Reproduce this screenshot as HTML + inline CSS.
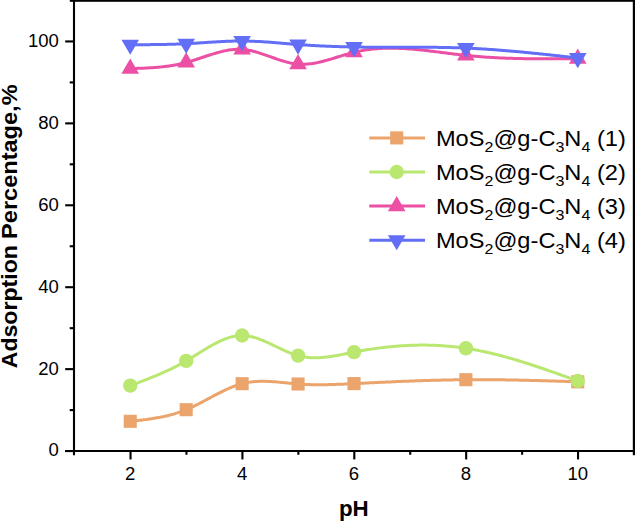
<!DOCTYPE html>
<html><head><meta charset="utf-8"><title>chart</title>
<style>
html,body{margin:0;padding:0;background:#fff;}
body{width:635px;height:522px;overflow:hidden;}
svg{display:block;font-family:"Liberation Sans",sans-serif;}
</style></head><body>
<svg width="635" height="522" viewBox="0 0 635 522">
<rect width="635" height="522" fill="#fff"/>
<polyline points="130.24,421.30 131.74,421.14 133.23,420.99 134.73,420.83 136.23,420.67 137.72,420.50 139.22,420.34 140.72,420.17 142.21,419.99 143.71,419.81 145.21,419.62 146.70,419.43 148.20,419.23 149.70,419.02 151.19,418.81 152.69,418.58 154.19,418.34 155.68,418.10 157.18,417.84 158.68,417.57 160.17,417.29 161.67,416.99 163.17,416.68 164.66,416.36 166.16,416.02 167.66,415.67 169.15,415.29 170.65,414.91 172.15,414.50 173.64,414.07 175.14,413.63 176.64,413.17 178.14,412.68 179.63,412.18 181.13,411.65 182.63,411.10 184.12,410.53 185.62,409.93 187.12,409.31 188.61,408.66 190.11,408.00 191.61,407.31 193.10,406.60 194.60,405.88 196.10,405.14 197.59,404.39 199.09,403.63 200.59,402.85 202.08,402.07 203.58,401.28 205.08,400.48 206.57,399.68 208.07,398.88 209.57,398.08 211.06,397.28 212.56,396.48 214.06,395.68 215.55,394.89 217.05,394.11 218.55,393.34 220.04,392.58 221.54,391.83 223.04,391.10 224.53,390.38 226.03,389.68 227.53,389.00 229.02,388.34 230.52,387.70 232.02,387.09 233.51,386.50 235.01,385.94 236.51,385.41 238.00,384.91 239.50,384.44 241.00,384.00 242.49,383.60 243.99,383.24 245.49,382.91 246.98,382.62 248.48,382.36 249.98,382.13 251.47,381.93 252.97,381.77 254.47,381.62 255.96,381.51 257.46,381.42 258.96,381.35 260.45,381.31 261.95,381.29 263.45,381.29 264.95,381.31 266.44,381.34 267.94,381.40 269.44,381.47 270.93,381.55 272.43,381.64 273.93,381.75 275.42,381.86 276.92,381.99 278.42,382.12 279.91,382.26 281.41,382.41 282.91,382.56 284.40,382.71 285.90,382.86 287.40,383.01 288.89,383.17 290.39,383.32 291.89,383.46 293.38,383.60 294.88,383.74 296.38,383.87 297.87,383.99 299.37,384.10 300.87,384.20 302.36,384.29 303.86,384.37 305.36,384.44 306.85,384.50 308.35,384.56 309.85,384.61 311.34,384.65 312.84,384.68 314.34,384.70 315.83,384.72 317.33,384.73 318.83,384.73 320.32,384.73 321.82,384.72 323.32,384.71 324.81,384.69 326.31,384.66 327.81,384.64 329.30,384.60 330.80,384.56 332.30,384.52 333.79,384.47 335.29,384.42 336.79,384.37 338.28,384.31 339.78,384.25 341.28,384.19 342.77,384.13 344.27,384.06 345.77,383.99 347.26,383.92 348.76,383.85 350.26,383.78 351.75,383.71 353.25,383.64 354.75,383.56 356.25,383.49 357.74,383.42 359.24,383.35 360.74,383.27 362.23,383.20 363.73,383.13 365.23,383.06 366.72,382.99 368.22,382.91 369.72,382.84 371.21,382.77 372.71,382.70 374.21,382.63 375.70,382.56 377.20,382.49 378.70,382.42 380.19,382.35 381.69,382.28 383.19,382.21 384.68,382.15 386.18,382.08 387.68,382.01 389.17,381.94 390.67,381.88 392.17,381.81 393.66,381.75 395.16,381.68 396.66,381.62 398.15,381.56 399.65,381.49 401.15,381.43 402.64,381.37 404.14,381.31 405.64,381.25 407.13,381.19 408.63,381.13 410.13,381.08 411.62,381.02 413.12,380.96 414.62,380.91 416.11,380.85 417.61,380.80 419.11,380.75 420.60,380.70 422.10,380.65 423.60,380.60 425.09,380.55 426.59,380.50 428.09,380.46 429.58,380.41 431.08,380.37 432.58,380.32 434.07,380.28 435.57,380.24 437.07,380.20 438.56,380.16 440.06,380.13 441.56,380.09 443.05,380.06 444.55,380.02 446.05,379.99 447.55,379.96 449.04,379.93 450.54,379.90 452.04,379.88 453.53,379.85 455.03,379.83 456.53,379.81 458.02,379.78 459.52,379.76 461.02,379.75 462.51,379.73 464.01,379.72 465.51,379.70 467.00,379.69 468.50,379.68 470.00,379.67 471.49,379.67 472.99,379.66 474.49,379.66 475.98,379.66 477.48,379.65 478.98,379.65 480.47,379.66 481.97,379.66 483.47,379.66 484.96,379.67 486.46,379.68 487.96,379.69 489.45,379.70 490.95,379.71 492.45,379.72 493.94,379.74 495.44,379.75 496.94,379.77 498.43,379.78 499.93,379.80 501.43,379.82 502.92,379.84 504.42,379.86 505.92,379.89 507.41,379.91 508.91,379.94 510.41,379.96 511.90,379.99 513.40,380.02 514.90,380.05 516.39,380.07 517.89,380.11 519.39,380.14 520.88,380.17 522.38,380.20 523.88,380.24 525.37,380.27 526.87,380.31 528.37,380.34 529.86,380.38 531.36,380.42 532.86,380.45 534.36,380.49 535.85,380.53 537.35,380.57 538.85,380.61 540.34,380.65 541.84,380.70 543.34,380.74 544.83,380.78 546.33,380.82 547.83,380.87 549.32,380.91 550.82,380.96 552.32,381.00 553.81,381.05 555.31,381.09 556.81,381.14 558.30,381.18 559.80,381.23 561.30,381.28 562.79,381.32 564.29,381.37 565.79,381.42 567.28,381.46 568.78,381.51 570.28,381.56 571.77,381.61 573.27,381.66 574.77,381.70 576.26,381.75 577.76,381.80" fill="none" stroke="#EBA46C" stroke-width="3.0" stroke-linejoin="round"/>
<rect x="123.69" y="414.75" width="13.1" height="13.1" fill="#EBA46C"/>
<rect x="179.63" y="403.15" width="13.1" height="13.1" fill="#EBA46C"/>
<rect x="235.57" y="377.15" width="13.1" height="13.1" fill="#EBA46C"/>
<rect x="291.51" y="377.45" width="13.1" height="13.1" fill="#EBA46C"/>
<rect x="347.45" y="377.05" width="13.1" height="13.1" fill="#EBA46C"/>
<rect x="459.33" y="373.15" width="13.1" height="13.1" fill="#EBA46C"/>
<rect x="571.21" y="375.25" width="13.1" height="13.1" fill="#EBA46C"/>
<polyline points="130.24,385.60 131.74,385.04 133.23,384.49 134.73,383.93 136.23,383.37 137.72,382.81 139.22,382.24 140.72,381.68 142.21,381.11 143.71,380.53 145.21,379.96 146.70,379.37 148.20,378.79 149.70,378.20 151.19,377.60 152.69,376.99 154.19,376.38 155.68,375.77 157.18,375.14 158.68,374.51 160.17,373.86 161.67,373.21 163.17,372.55 164.66,371.88 166.16,371.20 167.66,370.51 169.15,369.81 170.65,369.10 172.15,368.37 173.64,367.63 175.14,366.88 176.64,366.12 178.14,365.34 179.63,364.55 181.13,363.74 182.63,362.92 184.12,362.08 185.62,361.22 187.12,360.35 188.61,359.47 190.11,358.57 191.61,357.66 193.10,356.74 194.60,355.81 196.10,354.88 197.59,353.95 199.09,353.02 200.59,352.09 202.08,351.16 203.58,350.24 205.08,349.33 206.57,348.42 208.07,347.53 209.57,346.66 211.06,345.80 212.56,344.96 214.06,344.15 215.55,343.35 217.05,342.58 218.55,341.84 220.04,341.13 221.54,340.45 223.04,339.81 224.53,339.20 226.03,338.63 227.53,338.10 229.02,337.61 230.52,337.17 232.02,336.77 233.51,336.43 235.01,336.13 236.51,335.89 238.00,335.71 239.50,335.58 241.00,335.51 242.49,335.50 243.99,335.56 245.49,335.68 246.98,335.85 248.48,336.08 249.98,336.36 251.47,336.69 252.97,337.06 254.47,337.48 255.96,337.94 257.46,338.44 258.96,338.97 260.45,339.53 261.95,340.12 263.45,340.74 264.95,341.38 266.44,342.04 267.94,342.71 269.44,343.40 270.93,344.11 272.43,344.82 273.93,345.54 275.42,346.26 276.92,346.98 278.42,347.70 279.91,348.42 281.41,349.13 282.91,349.82 284.40,350.50 285.90,351.17 287.40,351.81 288.89,352.44 290.39,353.04 291.89,353.61 293.38,354.15 294.88,354.65 296.38,355.12 297.87,355.55 299.37,355.94 300.87,356.28 302.36,356.59 303.86,356.86 305.36,357.09 306.85,357.28 308.35,357.44 309.85,357.56 311.34,357.65 312.84,357.71 314.34,357.74 315.83,357.75 317.33,357.72 318.83,357.67 320.32,357.59 321.82,357.49 323.32,357.37 324.81,357.23 326.31,357.06 327.81,356.88 329.30,356.69 330.80,356.47 332.30,356.24 333.79,356.00 335.29,355.75 336.79,355.48 338.28,355.21 339.78,354.93 341.28,354.64 342.77,354.35 344.27,354.05 345.77,353.75 347.26,353.45 348.76,353.14 350.26,352.84 351.75,352.54 353.25,352.25 354.75,351.95 356.25,351.67 357.74,351.39 359.24,351.11 360.74,350.84 362.23,350.58 363.73,350.32 365.23,350.07 366.72,349.82 368.22,349.58 369.72,349.35 371.21,349.12 372.71,348.89 374.21,348.68 375.70,348.47 377.20,348.26 378.70,348.06 380.19,347.87 381.69,347.68 383.19,347.50 384.68,347.33 386.18,347.16 387.68,347.00 389.17,346.84 390.67,346.69 392.17,346.55 393.66,346.41 395.16,346.28 396.66,346.16 398.15,346.04 399.65,345.93 401.15,345.83 402.64,345.73 404.14,345.64 405.64,345.56 407.13,345.48 408.63,345.41 410.13,345.35 411.62,345.29 413.12,345.24 414.62,345.20 416.11,345.17 417.61,345.14 419.11,345.12 420.60,345.10 422.10,345.10 423.60,345.10 425.09,345.11 426.59,345.12 428.09,345.15 429.58,345.18 431.08,345.22 432.58,345.26 434.07,345.31 435.57,345.37 437.07,345.44 438.56,345.52 440.06,345.60 441.56,345.69 443.05,345.79 444.55,345.90 446.05,346.02 447.55,346.14 449.04,346.27 450.54,346.41 452.04,346.55 453.53,346.71 455.03,346.87 456.53,347.04 458.02,347.22 459.52,347.41 461.02,347.61 462.51,347.81 464.01,348.02 465.51,348.24 467.00,348.47 468.50,348.71 470.00,348.96 471.49,349.21 472.99,349.47 474.49,349.74 475.98,350.02 477.48,350.31 478.98,350.60 480.47,350.90 481.97,351.21 483.47,351.52 484.96,351.84 486.46,352.17 487.96,352.51 489.45,352.85 490.95,353.20 492.45,353.56 493.94,353.92 495.44,354.29 496.94,354.66 498.43,355.04 499.93,355.43 501.43,355.82 502.92,356.22 504.42,356.63 505.92,357.04 507.41,357.45 508.91,357.87 510.41,358.30 511.90,358.73 513.40,359.16 514.90,359.60 516.39,360.05 517.89,360.50 519.39,360.95 520.88,361.41 522.38,361.88 523.88,362.34 525.37,362.82 526.87,363.29 528.37,363.77 529.86,364.25 531.36,364.74 532.86,365.23 534.36,365.72 535.85,366.22 537.35,366.72 538.85,367.22 540.34,367.73 541.84,368.24 543.34,368.75 544.83,369.26 546.33,369.78 547.83,370.30 549.32,370.82 550.82,371.34 552.32,371.87 553.81,372.40 555.31,372.92 556.81,373.46 558.30,373.99 559.80,374.52 561.30,375.06 562.79,375.59 564.29,376.13 565.79,376.67 567.28,377.21 568.78,377.75 570.28,378.29 571.77,378.83 573.27,379.37 574.77,379.91 576.26,380.46 577.76,381.00" fill="none" stroke="#B9E770" stroke-width="3.0" stroke-linejoin="round"/>
<circle cx="130.24" cy="385.60" r="7.2" fill="#B9E770"/>
<circle cx="186.18" cy="360.90" r="7.2" fill="#B9E770"/>
<circle cx="242.12" cy="335.50" r="7.2" fill="#B9E770"/>
<circle cx="298.06" cy="355.60" r="7.2" fill="#B9E770"/>
<circle cx="354.00" cy="352.10" r="7.2" fill="#B9E770"/>
<circle cx="465.88" cy="348.30" r="7.2" fill="#B9E770"/>
<circle cx="577.76" cy="381.00" r="7.2" fill="#B9E770"/>
<polyline points="130.24,68.60 131.74,68.55 133.23,68.51 134.73,68.46 136.23,68.41 137.72,68.36 139.22,68.31 140.72,68.25 142.21,68.20 143.71,68.13 145.21,68.06 146.70,67.99 148.20,67.91 149.70,67.83 151.19,67.74 152.69,67.64 154.19,67.53 155.68,67.42 157.18,67.29 158.68,67.16 160.17,67.02 161.67,66.87 163.17,66.71 164.66,66.53 166.16,66.35 167.66,66.15 169.15,65.94 170.65,65.72 172.15,65.48 173.64,65.23 175.14,64.96 176.64,64.68 178.14,64.39 179.63,64.07 181.13,63.74 182.63,63.40 184.12,63.03 185.62,62.65 187.12,62.25 188.61,61.83 190.11,61.39 191.61,60.94 193.10,60.48 194.60,60.01 196.10,59.52 197.59,59.03 199.09,58.54 200.59,58.04 202.08,57.53 203.58,57.03 205.08,56.53 206.57,56.03 208.07,55.54 209.57,55.05 211.06,54.57 212.56,54.10 214.06,53.64 215.55,53.20 217.05,52.77 218.55,52.35 220.04,51.96 221.54,51.58 223.04,51.23 224.53,50.90 226.03,50.60 227.53,50.32 229.02,50.07 230.52,49.86 232.02,49.67 233.51,49.52 235.01,49.40 236.51,49.33 238.00,49.29 239.50,49.29 241.00,49.34 242.49,49.43 243.99,49.56 245.49,49.74 246.98,49.96 248.48,50.21 249.98,50.50 251.47,50.83 252.97,51.18 254.47,51.56 255.96,51.97 257.46,52.40 258.96,52.86 260.45,53.33 261.95,53.82 263.45,54.32 264.95,54.83 266.44,55.35 267.94,55.88 269.44,56.41 270.93,56.95 272.43,57.48 273.93,58.01 275.42,58.53 276.92,59.05 278.42,59.55 279.91,60.05 281.41,60.53 282.91,60.99 284.40,61.43 285.90,61.84 287.40,62.24 288.89,62.60 290.39,62.94 291.89,63.24 293.38,63.51 294.88,63.74 296.38,63.93 297.87,64.08 299.37,64.19 300.87,64.26 302.36,64.28 303.86,64.26 305.36,64.21 306.85,64.11 308.35,63.99 309.85,63.83 311.34,63.64 312.84,63.42 314.34,63.17 315.83,62.90 317.33,62.60 318.83,62.28 320.32,61.94 321.82,61.58 323.32,61.20 324.81,60.80 326.31,60.39 327.81,59.97 329.30,59.54 330.80,59.09 332.30,58.64 333.79,58.19 335.29,57.73 336.79,57.26 338.28,56.80 339.78,56.34 341.28,55.88 342.77,55.42 344.27,54.97 345.77,54.53 347.26,54.09 348.76,53.67 350.26,53.26 351.75,52.86 353.25,52.48 354.75,52.12 356.25,51.78 357.74,51.45 359.24,51.14 360.74,50.85 362.23,50.58 363.73,50.32 365.23,50.08 366.72,49.86 368.22,49.65 369.72,49.46 371.21,49.28 372.71,49.12 374.21,48.97 375.70,48.83 377.20,48.71 378.70,48.61 380.19,48.52 381.69,48.44 383.19,48.37 384.68,48.32 386.18,48.27 387.68,48.24 389.17,48.23 390.67,48.22 392.17,48.22 393.66,48.24 395.16,48.26 396.66,48.30 398.15,48.34 399.65,48.39 401.15,48.46 402.64,48.53 404.14,48.61 405.64,48.70 407.13,48.79 408.63,48.90 410.13,49.01 411.62,49.12 413.12,49.25 414.62,49.38 416.11,49.52 417.61,49.66 419.11,49.81 420.60,49.96 422.10,50.12 423.60,50.28 425.09,50.44 426.59,50.61 428.09,50.79 429.58,50.96 431.08,51.14 432.58,51.33 434.07,51.51 435.57,51.70 437.07,51.88 438.56,52.07 440.06,52.26 441.56,52.46 443.05,52.65 444.55,52.84 446.05,53.03 447.55,53.22 449.04,53.41 450.54,53.60 452.04,53.79 453.53,53.97 455.03,54.16 456.53,54.34 458.02,54.52 459.52,54.69 461.02,54.87 462.51,55.03 464.01,55.20 465.51,55.36 467.00,55.52 468.50,55.67 470.00,55.82 471.49,55.96 472.99,56.10 474.49,56.23 475.98,56.36 477.48,56.49 478.98,56.61 480.47,56.73 481.97,56.84 483.47,56.95 484.96,57.05 486.46,57.16 487.96,57.25 489.45,57.35 490.95,57.44 492.45,57.53 493.94,57.61 495.44,57.69 496.94,57.77 498.43,57.84 499.93,57.91 501.43,57.98 502.92,58.04 504.42,58.10 505.92,58.16 507.41,58.22 508.91,58.27 510.41,58.32 511.90,58.36 513.40,58.41 514.90,58.45 516.39,58.49 517.89,58.52 519.39,58.56 520.88,58.59 522.38,58.62 523.88,58.64 525.37,58.67 526.87,58.69 528.37,58.71 529.86,58.73 531.36,58.74 532.86,58.76 534.36,58.77 535.85,58.78 537.35,58.79 538.85,58.80 540.34,58.80 541.84,58.81 543.34,58.81 544.83,58.81 546.33,58.81 547.83,58.81 549.32,58.81 550.82,58.80 552.32,58.80 553.81,58.79 555.31,58.78 556.81,58.77 558.30,58.77 559.80,58.76 561.30,58.75 562.79,58.73 564.29,58.72 565.79,58.71 567.28,58.70 568.78,58.68 570.28,58.67 571.77,58.66 573.27,58.64 574.77,58.63 576.26,58.61 577.76,58.60" fill="none" stroke="#EB50A5" stroke-width="3.0" stroke-linejoin="round"/>
<polygon points="121.44,73.67 139.04,73.67 130.24,58.47" fill="#EB50A5"/>
<polygon points="177.38,67.57 194.98,67.57 186.18,52.37" fill="#EB50A5"/>
<polygon points="233.32,54.47 250.92,54.47 242.12,39.27" fill="#EB50A5"/>
<polygon points="289.26,69.17 306.86,69.17 298.06,53.97" fill="#EB50A5"/>
<polygon points="345.20,57.37 362.80,57.37 354.00,42.17" fill="#EB50A5"/>
<polygon points="457.08,60.47 474.68,60.47 465.88,45.27" fill="#EB50A5"/>
<polygon points="568.96,63.67 586.56,63.67 577.76,48.47" fill="#EB50A5"/>
<polyline points="130.24,44.70 131.74,44.70 133.23,44.69 134.73,44.69 136.23,44.69 137.72,44.69 139.22,44.68 140.72,44.68 142.21,44.67 143.71,44.67 145.21,44.66 146.70,44.65 148.20,44.64 149.70,44.63 151.19,44.62 152.69,44.60 154.19,44.59 155.68,44.57 157.18,44.55 158.68,44.53 160.17,44.51 161.67,44.49 163.17,44.46 164.66,44.43 166.16,44.40 167.66,44.37 169.15,44.33 170.65,44.29 172.15,44.25 173.64,44.20 175.14,44.16 176.64,44.11 178.14,44.05 179.63,43.99 181.13,43.93 182.63,43.87 184.12,43.80 185.62,43.73 187.12,43.65 188.61,43.57 190.11,43.49 191.61,43.40 193.10,43.32 194.60,43.22 196.10,43.13 197.59,43.04 199.09,42.94 200.59,42.84 202.08,42.74 203.58,42.65 205.08,42.55 206.57,42.45 208.07,42.35 209.57,42.25 211.06,42.16 212.56,42.06 214.06,41.97 215.55,41.88 217.05,41.79 218.55,41.71 220.04,41.63 221.54,41.55 223.04,41.47 224.53,41.40 226.03,41.34 227.53,41.28 229.02,41.22 230.52,41.17 232.02,41.13 233.51,41.09 235.01,41.06 236.51,41.03 238.00,41.01 239.50,41.00 241.00,41.00 242.49,41.00 243.99,41.01 245.49,41.04 246.98,41.06 248.48,41.10 249.98,41.14 251.47,41.19 252.97,41.25 254.47,41.31 255.96,41.38 257.46,41.45 258.96,41.53 260.45,41.62 261.95,41.71 263.45,41.80 264.95,41.90 266.44,42.00 267.94,42.10 269.44,42.21 270.93,42.32 272.43,42.44 273.93,42.55 275.42,42.67 276.92,42.79 278.42,42.91 279.91,43.03 281.41,43.16 282.91,43.28 284.40,43.40 285.90,43.53 287.40,43.65 288.89,43.77 290.39,43.90 291.89,44.02 293.38,44.14 294.88,44.26 296.38,44.37 297.87,44.49 299.37,44.60 300.87,44.71 302.36,44.81 303.86,44.91 305.36,45.01 306.85,45.11 308.35,45.21 309.85,45.30 311.34,45.39 312.84,45.48 314.34,45.56 315.83,45.65 317.33,45.73 318.83,45.81 320.32,45.88 321.82,45.96 323.32,46.03 324.81,46.09 326.31,46.16 327.81,46.23 329.30,46.29 330.80,46.35 332.30,46.40 333.79,46.46 335.29,46.51 336.79,46.56 338.28,46.61 339.78,46.66 341.28,46.70 342.77,46.75 344.27,46.79 345.77,46.82 347.26,46.86 348.76,46.90 350.26,46.93 351.75,46.96 353.25,46.99 354.75,47.01 356.25,47.04 357.74,47.06 359.24,47.08 360.74,47.10 362.23,47.12 363.73,47.14 365.23,47.15 366.72,47.16 368.22,47.18 369.72,47.19 371.21,47.20 372.71,47.21 374.21,47.21 375.70,47.22 377.20,47.22 378.70,47.23 380.19,47.23 381.69,47.23 383.19,47.24 384.68,47.24 386.18,47.24 387.68,47.24 389.17,47.24 390.67,47.24 392.17,47.24 393.66,47.24 395.16,47.23 396.66,47.23 398.15,47.23 399.65,47.23 401.15,47.23 402.64,47.23 404.14,47.22 405.64,47.22 407.13,47.22 408.63,47.22 410.13,47.22 411.62,47.22 413.12,47.22 414.62,47.22 416.11,47.23 417.61,47.23 419.11,47.23 420.60,47.24 422.10,47.24 423.60,47.25 425.09,47.26 426.59,47.26 428.09,47.27 429.58,47.29 431.08,47.30 432.58,47.31 434.07,47.33 435.57,47.34 437.07,47.36 438.56,47.38 440.06,47.40 441.56,47.43 443.05,47.45 444.55,47.48 446.05,47.51 447.55,47.54 449.04,47.57 450.54,47.60 452.04,47.64 453.53,47.68 455.03,47.72 456.53,47.77 458.02,47.81 459.52,47.86 461.02,47.91 462.51,47.97 464.01,48.02 465.51,48.08 467.00,48.15 468.50,48.21 470.00,48.28 471.49,48.35 472.99,48.42 474.49,48.50 475.98,48.58 477.48,48.66 478.98,48.74 480.47,48.83 481.97,48.92 483.47,49.01 484.96,49.11 486.46,49.20 487.96,49.30 489.45,49.40 490.95,49.50 492.45,49.61 493.94,49.72 495.44,49.82 496.94,49.94 498.43,50.05 499.93,50.16 501.43,50.28 502.92,50.40 504.42,50.52 505.92,50.65 507.41,50.77 508.91,50.90 510.41,51.03 511.90,51.16 513.40,51.29 514.90,51.42 516.39,51.56 517.89,51.69 519.39,51.83 520.88,51.97 522.38,52.11 523.88,52.26 525.37,52.40 526.87,52.54 528.37,52.69 529.86,52.84 531.36,52.99 532.86,53.14 534.36,53.29 535.85,53.44 537.35,53.59 538.85,53.75 540.34,53.90 541.84,54.06 543.34,54.22 544.83,54.38 546.33,54.54 547.83,54.70 549.32,54.86 550.82,55.02 552.32,55.18 553.81,55.34 555.31,55.50 556.81,55.67 558.30,55.83 559.80,56.00 561.30,56.16 562.79,56.33 564.29,56.49 565.79,56.66 567.28,56.83 568.78,56.99 570.28,57.16 571.77,57.33 573.27,57.50 574.77,57.66 576.26,57.83 577.76,58.00" fill="none" stroke="#626EF5" stroke-width="3.0" stroke-linejoin="round"/>
<polygon points="121.44,39.63 139.04,39.63 130.24,54.83" fill="#626EF5"/>
<polygon points="177.38,38.63 194.98,38.63 186.18,53.83" fill="#626EF5"/>
<polygon points="233.32,35.93 250.92,35.93 242.12,51.13" fill="#626EF5"/>
<polygon points="289.26,39.43 306.86,39.43 298.06,54.63" fill="#626EF5"/>
<polygon points="345.20,41.93 362.80,41.93 354.00,57.13" fill="#626EF5"/>
<polygon points="457.08,43.03 474.68,43.03 465.88,58.23" fill="#626EF5"/>
<polygon points="568.96,52.93 586.56,52.93 577.76,68.13" fill="#626EF5"/>
<g stroke="#000" stroke-width="2.1" fill="none">
<line x1="74.0" y1="0" x2="74.0" y2="455.2"/>
<line x1="65.2" y1="451.05" x2="635" y2="451.05"/>
</g>
<rect x="69.8" y="0" width="566" height="1.8" fill="#000"/>
<rect x="632.8" y="0" width="2.2" height="455.2" fill="#000"/>
<g stroke="#000" stroke-width="2.1">
<line x1="65.20" y1="451.05" x2="74.0" y2="451.05"/>
<line x1="69.70" y1="410.09" x2="74.0" y2="410.09"/>
<line x1="65.20" y1="369.13" x2="74.0" y2="369.13"/>
<line x1="69.70" y1="328.17" x2="74.0" y2="328.17"/>
<line x1="65.20" y1="287.21" x2="74.0" y2="287.21"/>
<line x1="69.70" y1="246.25" x2="74.0" y2="246.25"/>
<line x1="65.20" y1="205.29" x2="74.0" y2="205.29"/>
<line x1="69.70" y1="164.33" x2="74.0" y2="164.33"/>
<line x1="65.20" y1="123.37" x2="74.0" y2="123.37"/>
<line x1="69.70" y1="82.41" x2="74.0" y2="82.41"/>
<line x1="65.20" y1="41.45" x2="74.0" y2="41.45"/>
<line x1="130.54" y1="451.05" x2="130.54" y2="459.45"/>
<line x1="186.48" y1="451.05" x2="186.48" y2="454.75"/>
<line x1="242.42" y1="451.05" x2="242.42" y2="459.45"/>
<line x1="298.36" y1="451.05" x2="298.36" y2="454.75"/>
<line x1="354.30" y1="451.05" x2="354.30" y2="459.45"/>
<line x1="410.24" y1="451.05" x2="410.24" y2="454.75"/>
<line x1="466.18" y1="451.05" x2="466.18" y2="459.45"/>
<line x1="522.12" y1="451.05" x2="522.12" y2="454.75"/>
<line x1="578.06" y1="451.05" x2="578.06" y2="459.45"/>
</g>
<g font-size="19.0" fill="#000">
<text transform="translate(58.9,456.30) scale(0.975,1)" text-anchor="end">0</text>
<text transform="translate(58.9,374.50) scale(0.975,1)" text-anchor="end">20</text>
<text transform="translate(58.9,293.00) scale(0.975,1)" text-anchor="end">40</text>
<text transform="translate(58.9,210.60) scale(0.975,1)" text-anchor="end">60</text>
<text transform="translate(58.9,128.80) scale(0.975,1)" text-anchor="end">80</text>
<text transform="translate(58.9,47.20) scale(0.975,1)" text-anchor="end">100</text>
<text transform="translate(130.24,480.3) scale(0.975,1)" text-anchor="middle">2</text>
<text transform="translate(242.12,480.3) scale(0.975,1)" text-anchor="middle">4</text>
<text transform="translate(354.00,480.3) scale(0.975,1)" text-anchor="middle">6</text>
<text transform="translate(465.88,480.3) scale(0.975,1)" text-anchor="middle">8</text>
<text transform="translate(577.76,480.3) scale(0.975,1)" text-anchor="middle">10</text>
</g>
<text transform="translate(353.8,516.4) scale(0.985,1)" font-size="22.7" font-weight="bold" text-anchor="middle">pH</text>
<text transform="translate(16.5,368.3) rotate(-90) scale(1.075,1)" font-size="21.5" font-weight="bold" text-anchor="start">Adsorption</text>
<text transform="translate(16.5,84.4) rotate(-90) scale(1.096,1)" font-size="21.5" font-weight="bold" text-anchor="end">Percentage,%</text>
<line x1="369.3" y1="137.9" x2="425" y2="137.9" stroke="#EBA46C" stroke-width="3.0"/>
<rect x="390.15" y="131.35" width="13.1" height="13.1" fill="#EBA46C"/>
<text transform="translate(435.9,145.60) scale(1.055,1)" font-size="22.4" fill="#000">MoS<tspan font-size="15.2" dy="6">2</tspan><tspan dy="-6">@g-C</tspan><tspan font-size="15.2" dy="6">3</tspan><tspan dy="-6">N</tspan><tspan font-size="15.2" dy="6">4</tspan><tspan dy="-6"> (1)</tspan></text>
<line x1="369.3" y1="172.0" x2="425" y2="172.0" stroke="#B9E770" stroke-width="3.0"/>
<circle cx="396.70" cy="172.00" r="7.2" fill="#B9E770"/>
<text transform="translate(435.9,179.70) scale(1.055,1)" font-size="22.4" fill="#000">MoS<tspan font-size="15.2" dy="6">2</tspan><tspan dy="-6">@g-C</tspan><tspan font-size="15.2" dy="6">3</tspan><tspan dy="-6">N</tspan><tspan font-size="15.2" dy="6">4</tspan><tspan dy="-6"> (2)</tspan></text>
<line x1="369.3" y1="206.1" x2="425" y2="206.1" stroke="#EB50A5" stroke-width="3.0"/>
<polygon points="387.90,211.17 405.50,211.17 396.70,195.97" fill="#EB50A5"/>
<text transform="translate(435.9,213.80) scale(1.055,1)" font-size="22.4" fill="#000">MoS<tspan font-size="15.2" dy="6">2</tspan><tspan dy="-6">@g-C</tspan><tspan font-size="15.2" dy="6">3</tspan><tspan dy="-6">N</tspan><tspan font-size="15.2" dy="6">4</tspan><tspan dy="-6"> (3)</tspan></text>
<line x1="369.3" y1="240.2" x2="425" y2="240.2" stroke="#626EF5" stroke-width="3.0"/>
<polygon points="387.90,235.13 405.50,235.13 396.70,250.33" fill="#626EF5"/>
<text transform="translate(435.9,247.90) scale(1.055,1)" font-size="22.4" fill="#000">MoS<tspan font-size="15.2" dy="6">2</tspan><tspan dy="-6">@g-C</tspan><tspan font-size="15.2" dy="6">3</tspan><tspan dy="-6">N</tspan><tspan font-size="15.2" dy="6">4</tspan><tspan dy="-6"> (4)</tspan></text>
</svg></body></html>
